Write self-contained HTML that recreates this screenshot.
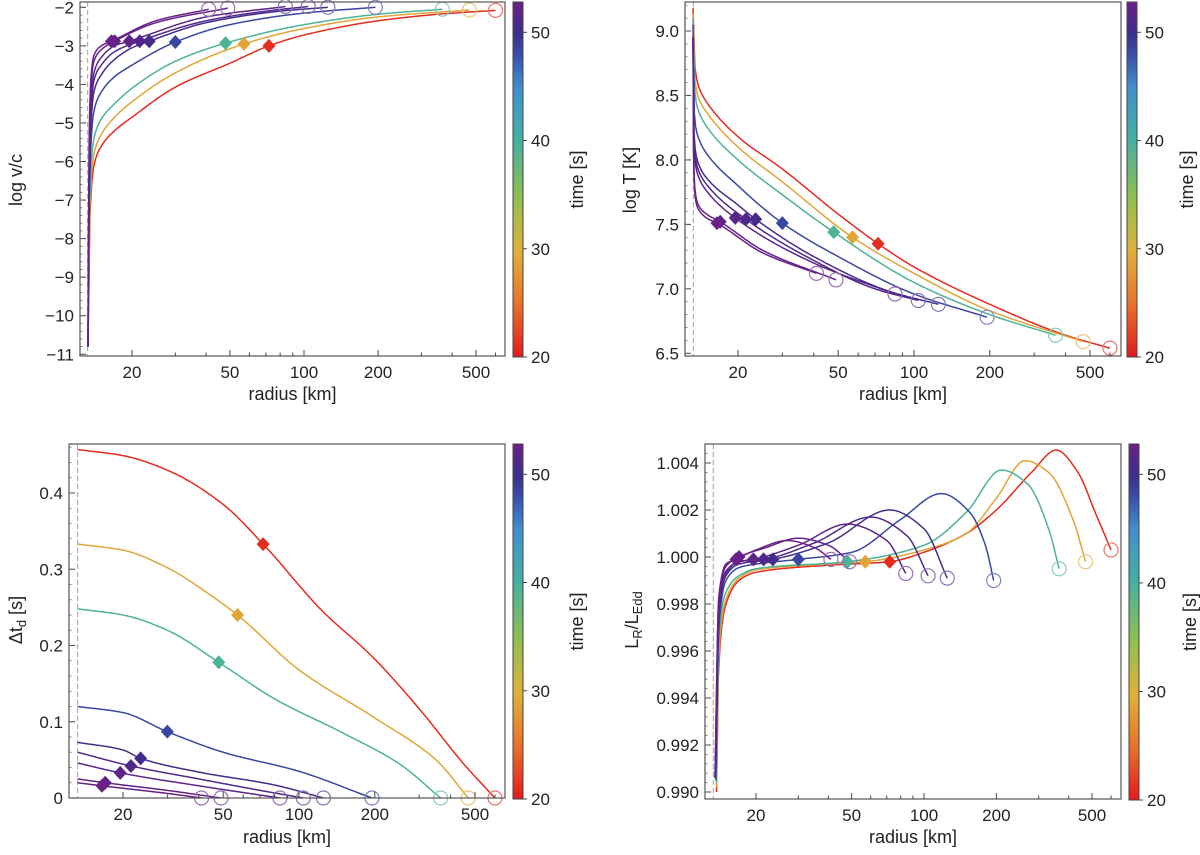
<!DOCTYPE html>
<html><head><meta charset="utf-8"><style>
html,body{margin:0;padding:0;background:#fff;}
svg{display:block;font-family:"Liberation Sans","DejaVu Sans",sans-serif;}
</style></head><body>
<svg id="fig" width="1200" height="855" viewBox="0 0 1200 855">
<defs>
<linearGradient id="cbgrad" x1="0" y1="1" x2="0" y2="0">
<stop offset="0" stop-color="#e31a1c"/><stop offset="0.15" stop-color="#e8732a"/><stop offset="0.30" stop-color="#dfb23a"/><stop offset="0.45" stop-color="#8fbf50"/><stop offset="0.61" stop-color="#45b0a0"/><stop offset="0.76" stop-color="#4090d0"/><stop offset="0.85" stop-color="#3a4fa8"/><stop offset="0.91" stop-color="#3b2f8e"/><stop offset="1" stop-color="#6d1f87"/>
</linearGradient>
</defs>
</svg>
<script>
// ---- data ----
const curveTimes = [21, 29, 39.5, 48.5, 50.5, 51.2, 51.8, 52.3, 52.7];
const endRadius = [600, 470, 365, 195, 125, 104, 84, 49, 41];
const diamondRadius = [72, 57, 48, 30, 23.5, 21.5, 19.5, 17, 16.5];
const vTicks = [-2,-3,-4,-5,-6,-7,-8,-9,-10,-11];
const tTicks = [9.0,8.5,8.0,7.5,7.0,6.5];
const dtTicks = [0,0.1,0.2,0.3,0.4];
const lTicks = [0.990,0.992,0.994,0.996,0.998,1.000,1.002,1.004];
const xTicks = [20,50,100,200,500];
const cbTicks = [20,30,40,50];
// log v/c curves: [r, value]
const velRed = [[13.25,-10.8],[13.4,-8],[13.6,-6.9],[14,-6.1],[15,-5.6],[17,-5.2],[20,-4.85],[30,-4.07],[50,-3.45],[72,-3.0],[100,-2.72],[200,-2.35],[350,-2.18],[600,-2.08]];
const velOrange = [[13.25,-10.8],[13.4,-7.8],[13.6,-6.6],[14,-5.8],[15,-5.3],[17,-4.85],[20,-4.45],[30,-3.7],[57,-2.95],[100,-2.55],[200,-2.25],[470,-2.07]];
const velTeal = [[13.25,-10.8],[13.4,-7.5],[13.6,-6.2],[14,-5.4],[15,-4.9],[17,-4.5],[20,-4.1],[30,-3.4],[48,-2.93],[100,-2.45],[200,-2.18],[365,-2.05]];
const velBlue = [[13.25,-10.8],[13.4,-7],[13.6,-5.6],[14,-4.7],[15,-4.2],[17,-3.8],[20,-3.5],[30,-2.9],[50,-2.45],[100,-2.15],[195,-2.0]];
const velP1 = [[13.25,-10.8],[13.4,-6.6],[13.6,-5.1],[14,-4.2],[15,-3.75],[17,-3.35],[20,-3.05],[23.5,-2.88],[40,-2.4],[80,-2.1],[125,-2.0]];
const velP2 = [[13.25,-10.8],[13.4,-6.3],[13.6,-4.8],[14,-3.9],[15,-3.5],[17,-3.15],[21.5,-2.88],[40,-2.35],[70,-2.1],[104,-1.98]];
const velP3 = [[13.25,-10.8],[13.4,-6.0],[13.6,-4.5],[14,-3.7],[15,-3.3],[17,-3.0],[19.5,-2.88],[40,-2.25],[84,-1.98]];
const velP4 = [[13.25,-10.8],[13.4,-5.6],[13.6,-4.1],[14,-3.4],[15,-3.1],[17,-2.88],[25,-2.4],[49,-2.02]];
const velP5 = [[13.25,-10.8],[13.4,-5.4],[13.6,-3.9],[14,-3.25],[15,-3.0],[16.5,-2.88],[25,-2.35],[41,-2.05]];
// log T curves
const tempRed = [[13.25,9.18],[13.35,8.85],[13.6,8.66],[14,8.56],[15,8.45],[20,8.18],[30,7.93],[50,7.58],[72,7.35],[100,7.17],[200,6.88],[400,6.64],[600,6.54]];
const tempOrange = [[13.25,9.14],[13.35,8.75],[13.6,8.56],[14,8.47],[15,8.37],[20,8.1],[30,7.83],[57,7.4],[100,7.12],[200,6.83],[470,6.59]];
const tempTeal = [[13.25,9.1],[13.35,8.65],[13.6,8.46],[14,8.37],[15,8.26],[20,8.0],[30,7.73],[48,7.44],[100,7.05],[200,6.8],[365,6.64]];
const tempBlue = [[13.25,9.05],[13.35,8.45],[13.6,8.25],[14,8.16],[15,8.05],[20,7.8],[30,7.51],[50,7.25],[100,6.96],[195,6.78]];
const tempP1 = [[13.25,8.95],[13.35,8.25],[13.6,8.05],[14,7.96],[15,7.86],[20,7.65],[23.5,7.54],[40,7.25],[80,6.98],[125,6.88]];
const tempP2 = [[13.25,8.95],[13.35,8.2],[13.6,8.0],[14,7.91],[15,7.81],[21.5,7.54],[40,7.22],[70,7.0],[104,6.91]];
const tempP3 = [[13.25,8.95],[13.35,8.15],[13.6,7.95],[14,7.86],[15,7.76],[19.5,7.55],[40,7.2],[84,6.96]];
const tempP4 = [[13.25,8.95],[13.35,7.95],[13.6,7.72],[14,7.64],[15,7.58],[17,7.52],[25,7.3],[49,7.07]];
const tempP5 = [[13.25,8.95],[13.35,7.9],[13.6,7.68],[14,7.61],[15,7.55],[16.5,7.51],[25,7.28],[41,7.12]];
// delta t_d curves
const dtRed = [[13.2,0.457],[20,0.449],[30,0.43],[50,0.385],[72,0.333],[124,0.245],[196,0.185],[309,0.112],[450,0.045],[600,0.0]];
const dtOrange = [[13.2,0.333],[20,0.325],[30,0.302],[45,0.265],[57,0.24],[100,0.168],[200,0.105],[350,0.05],[470,0.0]];
const dtTeal = [[13.2,0.248],[20,0.24],[30,0.22],[48,0.178],[80,0.13],[150,0.085],[250,0.045],[365,0.0]];
const dtBlue = [[13.2,0.12],[20,0.112],[30,0.087],[50,0.06],[100,0.035],[195,0.0]];
const dtP1 = [[13.2,0.073],[20,0.063],[23.5,0.052],[40,0.034],[80,0.017],[125,0.0]];
const dtP2 = [[13.2,0.06],[21.5,0.042],[40,0.025],[70,0.01],[104,0.0]];
const dtP3 = [[13.2,0.046],[19.5,0.033],[40,0.016],[84,0.0]];
const dtP4 = [[13.2,0.025],[17,0.02],[30,0.01],[49,0.0]];
const dtP5 = [[13.2,0.02],[16.5,0.016],[30,0.006],[41,0.0]];
// L_R/L_Edd curves
const lumRed = [[13.7,0.9900],[14,0.9955],[15,0.9980],[17,0.9990],[20,0.99935],[40,0.99965],[72,0.9998],[100,1.0002],[150,1.0010],[200,1.0020],[280,1.0036],[355,1.00455],[437,1.0036],[520,1.0018],[600,1.0003]];
const lumOrange = [[13.7,0.9902],[14,0.9960],[15,0.9982],[17,0.9991],[20,0.99945],[40,0.9997],[57,0.9998],[100,1.0003],[150,1.0010],[200,1.0025],[263,1.0041],[330,1.0036],[420,1.0015],[470,0.9998]];
const lumTeal = [[13.7,0.9904],[14,0.9965],[15,0.9985],[17,0.9992],[20,0.9995],[48,0.9998],[100,1.0005],[150,1.0019],[210,1.0037],[270,1.0031],[330,1.0012],[365,0.9995]];
const lumBlue = [[13.6,0.9905],[14,0.9970],[15,0.9990],[17,0.99955],[20,0.9997],[30,0.9999],[50,1.0002],[80,1.0016],[118,1.0027],[155,1.0019],[180,1.0005],[195,0.9990]];
const lumP1 = [[13.6,0.9906],[14,0.9975],[15,0.9992],[17,0.9997],[23.5,0.9999],[40,1.0006],[72,1.0020],[100,1.0012],[125,0.9991]];
const lumP2 = [[13.6,0.9906],[14,0.9977],[15,0.9993],[17,0.9998],[21.5,0.9999],[35,1.0006],[60,1.0017],[85,1.0009],[104,0.9992]];
const lumP3 = [[13.6,0.9906],[14,0.9979],[15,0.9994],[17,0.9998],[19.5,0.9999],[30,1.0005],[48,1.0014],[70,1.0007],[84,0.9993]];
const lumP4 = [[13.5,0.9906],[14,0.9982],[15,0.9996],[17,1.0000],[22,1.0004],[30,1.0008],[40,1.0005],[49,0.9998]];
const lumP5 = [[13.5,0.9906],[14,0.9983],[15,0.9997],[16.5,0.9999],[20,1.0003],[27,1.0007],[35,1.0004],[41,0.9999]];

const velCurves = [velRed,velOrange,velTeal,velBlue,velP1,velP2,velP3,velP4,velP5];
const tempCurves = [tempRed,tempOrange,tempTeal,tempBlue,tempP1,tempP2,tempP3,tempP4,tempP5];
const dtCurves = [dtRed,dtOrange,dtTeal,dtBlue,dtP1,dtP2,dtP3,dtP4,dtP5];
const lumCurves = [lumRed,lumOrange,lumTeal,lumBlue,lumP1,lumP2,lumP3,lumP4,lumP5];

// ---- rendering ----
const NS = "http://www.w3.org/2000/svg";
const svg = document.getElementById('fig');
function mk(tag, attrs, parent){const e=document.createElementNS(NS,tag);for(const k in attrs)e.setAttribute(k,attrs[k]);(parent||svg).appendChild(e);return e;}
const cmStops=[[20,[227,26,28]],[25,[232,115,42]],[30,[223,178,58]],[35,[143,191,80]],[40,[69,176,160]],[45,[64,144,208]],[48,[58,79,168]],[50,[59,47,142]],[52.8,[109,31,135]]];
function cmap(t){for(let i=0;i<cmStops.length-1;i++){const a=cmStops[i],b=cmStops[i+1];if(t<=b[0]){const f=Math.max(0,(t-a[0])/(b[0]-a[0]));const c=a[1].map((v,j)=>Math.round(v+(b[1][j]-v)*f));return `rgb(${c})`;}}return 'rgb(109,31,135)';}
function lighten(t){const m=cmap(t).match(/\d+/g).map(Number);return `rgb(${m.map(v=>Math.round(v+(255-v)*0.35))})`;}
// monotone cubic (Fritsch-Carlson) in log-r space
function monoSpline(curve){
 const xs=curve.map(q=>Math.log(q[0])),ys=curve.map(q=>q[1]);const n=xs.length;
 const d=[],m=new Array(n);
 for(let i=0;i<n-1;i++)d.push((ys[i+1]-ys[i])/(xs[i+1]-xs[i]));
 m[0]=d[0];m[n-1]=d[n-2];
 for(let i=1;i<n-1;i++){if(d[i-1]*d[i]<=0)m[i]=0;else{const h0=xs[i]-xs[i-1],h1=xs[i+1]-xs[i];const w1=2*h1+h0,w2=h1+2*h0;m[i]=(w1+w2)/(w1/d[i-1]+w2/d[i]);}}
 return function(r){const x=Math.log(r);let i=0;while(i<n-2&&x>xs[i+1])i++;const h=xs[i+1]-xs[i];const t=Math.min(1,Math.max(0,(x-xs[i])/h));
  const t2=t*t,t3=t2*t;return (2*t3-3*t2+1)*ys[i]+(t3-2*t2+t)*h*m[i]+(-2*t3+3*t2)*ys[i+1]+(t3-t2)*h*m[i+1];};
}

const panels=[
 {id:'velocity',L:80,R:505,T:2,B:356,x20:132,x500:476,ya:[-2,7.3],yb:[-11,354.3],ticks:vTicks,fmt:v=>v<0?'\u2212'+Math.abs(v):''+v,curves:velCurves,cbx:513,ylab:'log v/c',ylx:16,yly:180,xly:400,tlx:577,dash:13.2},
 {id:'temperature',L:685,R:1121,T:2,B:356,x20:738,x500:1090,ya:[9.0,31],yb:[6.5,353.3],ticks:tTicks,fmt:v=>v.toFixed(1),curves:tempCurves,cbx:1127,ylab:'log T [K]',ylx:630,yly:180,xly:400,tlx:1187,dash:13.3},
 {id:'delay',L:69,R:505,T:444,B:798,x20:123,x500:475,ya:[0,798],yb:[0.4,493],ticks:dtTicks,fmt:v=>v===0?'0':''+v,curves:dtCurves,cbx:513,ylab:'dt',ylx:16,yly:620,xly:843,tlx:577,dash:13.2},
 {id:'luminosity',L:705,R:1121,T:444,B:799,x20:756,x500:1092,ya:[1.004,463],yb:[0.990,792],ticks:lTicks,fmt:v=>v.toFixed(3),curves:lumCurves,cbx:1129,ylab:'lum',ylx:632,yly:620,xly:843,tlx:1190,dash:13.3}
];

panels.forEach(p=>{
 const g=mk('g',{});
 
 
 const dec=(p.x500-p.x20)/Math.log10(25);
 const X=r=>p.x20+(Math.log10(r)-Math.log10(20))*dec;
 const Y=v=>p.ya[1]+(v-p.ya[0])*(p.yb[1]-p.ya[1])/(p.yb[0]-p.ya[0]);
 const cid='clip-'+p.id;
 const cp=mk('clipPath',{id:cid},g);mk('rect',{x:p.L,y:p.T,width:p.R-p.L,height:p.B-p.T},cp);
 const dl=mk('line',{x1:X(p.dash),x2:X(p.dash),y1:p.T,y2:p.B,stroke:'#b0b0b0','stroke-width':1.2,'stroke-dasharray':'5,3'},g);
 
 
 const cg=mk('g',{'clip-path':`url(#${cid})`},g);
 const splines=p.curves.map(c=>monoSpline(c));
 p.curves.forEach((c,i)=>{
  const col=cmap(curveTimes[i]);
  const f=splines[i];const r0=c[0][0],r1=c[c.length-1][0];
  const pts=[];const N=220;
  for(let k=0;k<=N;k++){const s=k/N;const r=Math.exp(Math.log(r0)+(Math.log(r1)-Math.log(r0))*Math.pow(s,1.0));pts.push(X(r).toFixed(1)+','+Y(f(r)).toFixed(1));}
  const path=mk('polyline',{points:pts.join(' '),fill:'none',stroke:col,'stroke-width':1.5,'stroke-linejoin':'round'},cg);
  
  
 });
 p.curves.forEach((c,i)=>{
  const rE=endRadius[i],rD=diamondRadius[i];
  const cx=X(rE),cy=Y(splines[i](rE));
  const circ=mk('circle',{cx:cx,cy:cy,r:7,fill:'none',stroke:lighten(curveTimes[i]),'stroke-width':1.2},g);
  
  
  const dx=X(rD),dy=Y(splines[i](rD));
  const dm=mk('path',{d:`M${dx},${dy-7}L${dx+6.5},${dy}L${dx},${dy+7}L${dx-6.5},${dy}Z`,fill:cmap(curveTimes[i])},g);
  
  
 });
 const fr=mk('rect',{x:p.L,y:p.T,width:p.R-p.L,height:p.B-p.T,fill:'none',stroke:'#555','stroke-width':1.2},g);
 
 
 const minors=[20,30,40,50,60,70,80,90,100,200,300,400,500,600];
 minors.forEach(m=>{const x=X(m);if(x<p.L||x>p.R)return;const maj=xTicks.includes(m);mk('line',{x1:x,x2:x,y1:p.B,y2:p.B-(maj?6:3.5),stroke:'#444','stroke-width':1},g);});
 xTicks.forEach(t=>{const tx=mk('text',{x:X(t),y:p.B+22,'text-anchor':'middle','font-size':17,fill:'#222'},g);tx.textContent=''+t;
  
  });
 p.ticks.forEach(t=>{const y=Y(t);mk('line',{x1:p.L,x2:p.L+6,y1:y,y2:y,stroke:'#444','stroke-width':1},g);
  const tx=mk('text',{x:p.L-6,y:y+6,'text-anchor':'end','font-size':17,fill:'#222'},g);tx.textContent=p.fmt(t);
  
  });
 const step=(p.ticks[1]-p.ticks[0])/5;
 for(let k=0;k<p.ticks.length*5+5;k++){const v=p.ticks[0]+(k-2)*step;const y=Y(v);if(y<p.T||y>p.B)continue;mk('line',{x1:p.L,x2:p.L+2.5,y1:y,y2:y,stroke:'#666','stroke-width':0.8},g);}
 const xl=mk('text',{x:(p.L+p.R)/2,y:p.xly,'text-anchor':'middle','font-size':18,fill:'#222'},g);xl.textContent='radius [km]';
 
 
 const yl=mk('text',{x:0,y:0,'text-anchor':'middle','font-size':18,fill:'#222',transform:`translate(${p.ylx+6},${p.yly}) rotate(-90)`},g);
 if(p.ylab==='dt'){yl.innerHTML='\u0394t<tspan font-size="13" dy="4">d</tspan><tspan dy="-4"> [s]</tspan>';}
 else if(p.ylab==='lum'){yl.innerHTML='L<tspan font-size="13" dy="4">R</tspan><tspan dy="-4">/L</tspan><tspan font-size="13" dy="4">Edd</tspan>';}
 else yl.textContent=p.ylab;
 
 
 const cb=mk('g',{},g);
 
 
 const cbT=p.T,cbB=p.B+1;
 const CY=t=>cbB-(t-20)/(52.8-20)*(cbB-cbT);
 mk('rect',{x:p.cbx,y:cbT,width:10,height:cbB-cbT,fill:'url(#cbgrad)',stroke:'#444','stroke-width':1},cb);
 cbTicks.forEach(t=>{const y=CY(t);mk('line',{x1:p.cbx+10,x2:p.cbx+14,y1:y,y2:y,stroke:'#444'},cb);
  const tx=mk('text',{x:p.cbx+18,y:y+6,'font-size':17,fill:'#222'},cb);tx.textContent=''+t;
  
  });
 const tl=mk('text',{x:0,y:0,'text-anchor':'middle','font-size':18,fill:'#222',transform:`translate(${p.tlx+6},${(cbT+cbB)/2}) rotate(-90)`},cb);tl.textContent='time [s]';
 
 
});
</script>
</body></html>
